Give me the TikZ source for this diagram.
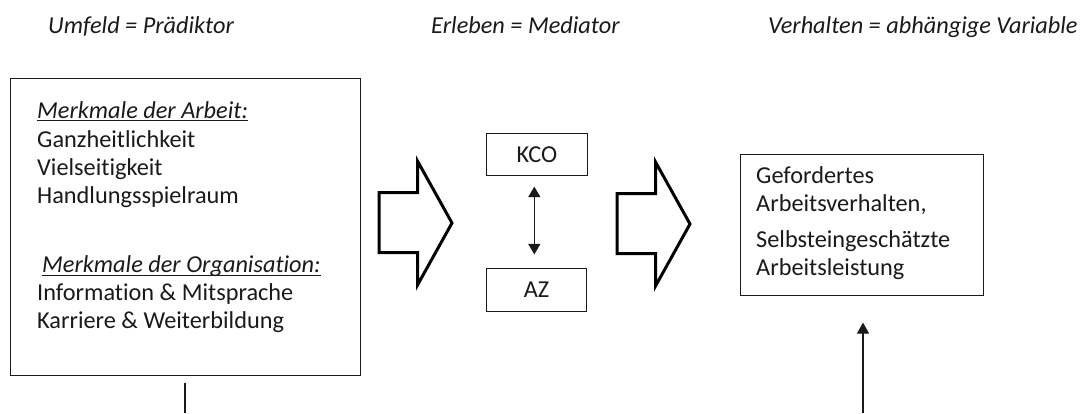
\documentclass[tikz,border=0pt]{standalone}
\usepackage{fontspec}
\setmainfont{Carlito}[Ligatures={NoCommon}]
\usetikzlibrary{arrows.meta}
\definecolor{ink}{HTML}{1A1A1A}
% underline at a fixed depth below the baseline (it cuts through descenders)
\newcommand\ulword[1]{\setbox0\hbox{#1}\rlap{\rule[-3.2pt]{\wd0}{0.9pt}}\box0}
\begin{document}
\begin{tikzpicture}[x=1pt,y=-1pt,
  txt/.style={anchor=base west, inner sep=0pt, text=ink, font=\fontsize{24.3}{29}\selectfont},
  ttl/.style={anchor=base west, inner sep=0pt, text=ink, font=\fontsize{24.3}{29}\selectfont\itshape},
  frame/.style={draw=ink, line width=1.2pt, inner sep=0pt, text=ink, font=\fontsize{24.3}{29}\selectfont},
  blockarrow/.style={draw=black, line width=3pt, line join=miter, miter limit=10},
  link/.style={draw=ink, line width=1.2pt},
  tip/.style={-{Triangle[length=11pt,width=12pt]}},
  twotip/.style={{Triangle[length=10.5pt,width=12pt]}-{Triangle[length=10.5pt,width=12pt]}}
]
\useasboundingbox (0,0) rectangle (1083,413);
\fill[white] (0,0) rectangle (1083,413);

% column headings
\node[ttl] (t1) at (48,33.5) {Umfeld = Prädiktor};
\node[ttl] (t2) at (431,33.5) {Erleben = Mediator};
\node[ttl] (t3) at (768,33.5) {Verhalten = abhängige Variable};

% predictor box
\node[frame, minimum width=349.8pt, minimum height=296.8pt] (env) at (185.5,227) {};
\node[txt] (h1) at (37,118) {\ulword{\itshape Merkmale der Arbeit:}};
\node[txt] (a1) at (37,147) {Ganzheitlichkeit};
\node[txt] (a2) at (37,175.5) {Vielseitigkeit};
\node[txt] (a3) at (37,203.5) {Handlungsspielraum};
\node[txt] (h2) at (42,272.5) {\ulword{\itshape Merkmale der Organisation:}};
\node[txt] (o1) at (37,300.5) {Information \& Mitsprache};
\node[txt] (o2) at (37,328.5) {Karriere \& Weiterbildung};

% mediator boxes
\node[frame, minimum width=100.8pt, minimum height=41.8pt] (kco) at (537,154.5) {KCO};
\node[frame, minimum width=99.8pt, minimum height=42.8pt] (az) at (536.5,290) {AZ};

% outcome box
\node[frame, minimum width=242.8pt, minimum height=140.8pt] (res) at (862,225) {};
\node[txt] (r1) at (756,183) {Gefordertes};
\node[txt] (r2) at (756,211.7) {Arbeitsverhalten,};
\node[txt] (r3) at (756,247) {Selbsteingeschätzte};
\node[txt] (r4) at (756,275.5) {Arbeitsleistung};

% outlined block arrows between the columns
\foreach \ox/\oy in {379/192.5, 617/193.5}
  \draw[blockarrow] (\ox,\oy) -- ++(38.5,0) -- ++(0,-31.5) -- ++(34.5,62)
    -- ++(-34.5,62) -- ++(0,-32.5) -- ++(-38.5,0) -- cycle;

% connectors
\draw[link, twotip, shorten <=10.6pt, shorten >=13.6pt]
  ([xshift=-2.7pt]kco.south) -- ([xshift=-2.2pt]az.north);
\coordinate (envfoot) at (185,413);
\draw[link, shorten <=6.6pt] ([xshift=-0.5pt]env.south) -- (envfoot);
\coordinate (resfoot) at (863,413);
\draw[link, tip, shorten >=26.6pt] (resfoot) -- ([xshift=1pt]res.south);
\end{tikzpicture}
\end{document}
